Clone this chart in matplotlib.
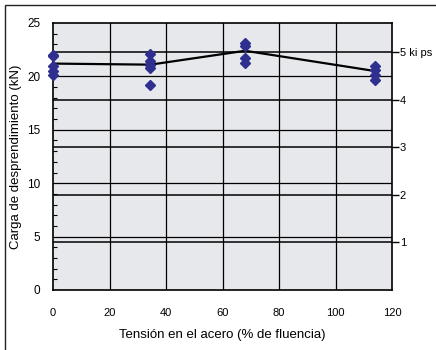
import matplotlib
matplotlib.use("Agg")
import matplotlib.pyplot as plt
from matplotlib.patches import Rectangle
from matplotlib.ticker import MultipleLocator

plt.rcParams['font.family'] = ['Liberation Sans', 'DejaVu Sans']

# Individual test results (kN) at each steel stress level (% of yield)
stress_0 = [0, 0, 0, 0, 0]
load_0 = [22.0, 21.9, 21.0, 20.5, 20.1]
stress_35 = [34.5, 34.5, 34.5, 34.5, 34.5]
load_35 = [22.1, 21.4, 21.1, 20.8, 19.2]
stress_68 = [68, 68, 68, 68]
load_68 = [23.1, 22.8, 21.7, 21.3]
stress_114 = [114, 114, 114, 114]
load_114 = [21.0, 20.6, 20.1, 19.7]

# Average trend line
avg_stress = [0, 34.5, 68, 114]
avg_load = [21.2, 21.1, 22.4, 20.5]

# Secondary scale in kips
kip_values = [1, 2, 3, 4, 5]
kip_labels = ['1', '2', '3', '4', '5 ki ps']
KN_PER_KIP = 4.448

fig = plt.figure(figsize=(4.36, 3.5), dpi=100)
fig.patches.append(Rectangle((5 / 436, -0.1), 1.2, (345 / 350) + 0.1,
                             transform=fig.transFigure, fill=False,
                             edgecolor='#222222', linewidth=1.0))

ax = fig.add_axes([53 / 436, 60 / 350, 339 / 436, 267 / 350])
ax.set_facecolor('#e7e8ec')
ax.set_xlim(0, 120)
ax.set_ylim(0, 25)

# Grid: x every 20, y every 5
for xv in range(20, 120, 20):
    ax.axvline(xv, color='black', linewidth=0.9, zorder=1)
for yv in range(5, 25, 5):
    ax.axhline(yv, color='black', linewidth=0.9, zorder=1)
for k in kip_values:
    ax.axhline(k * KN_PER_KIP, color='black', linewidth=1.1, zorder=1)

marker_color = '#2f2f8f'
for xs, ys in [(stress_0, load_0), (stress_35, load_35),
               (stress_68, load_68), (stress_114, load_114)]:
    ax.plot(xs, ys, linestyle='none', marker='D', markersize=5.5,
            color=marker_color, zorder=4, clip_on=False)

ax.plot(avg_stress, avg_load, color='black', linewidth=1.6, zorder=3)

ax.xaxis.set_major_locator(MultipleLocator(20))
ax.yaxis.set_major_locator(MultipleLocator(5))
ax.yaxis.set_minor_locator(MultipleLocator(1))
ax.tick_params(axis='x', length=0, pad=13, labelsize=8)
ax.tick_params(axis='y', which='major', length=0, pad=9, labelsize=8.5)
ax.tick_params(axis='y', which='minor', direction='in', length=3, width=0.8)
ax.tick_params(axis='y', right=False)

for s in ax.spines.values():
    s.set_color('black')
    s.set_linewidth(1.2)

ax.set_xlabel('Tensión en el acero (% de fluencia)', fontsize=9.5, labelpad=8)
ax.set_ylabel('Carga de desprendimiento (kN)', fontsize=9.5, labelpad=4)

# Right-hand kip axis
ax2 = ax.twinx()
ax2.set_ylim(0, 25 / KN_PER_KIP)
ax2.set_yticks(kip_values)
ax2.set_yticklabels(kip_labels)
ax2.tick_params(axis='y', direction='out', length=5, width=1.0, pad=0.5,
                labelsize=8)
for s in ax2.spines.values():
    s.set_visible(False)

fig.savefig('out.png', dpi=100)
